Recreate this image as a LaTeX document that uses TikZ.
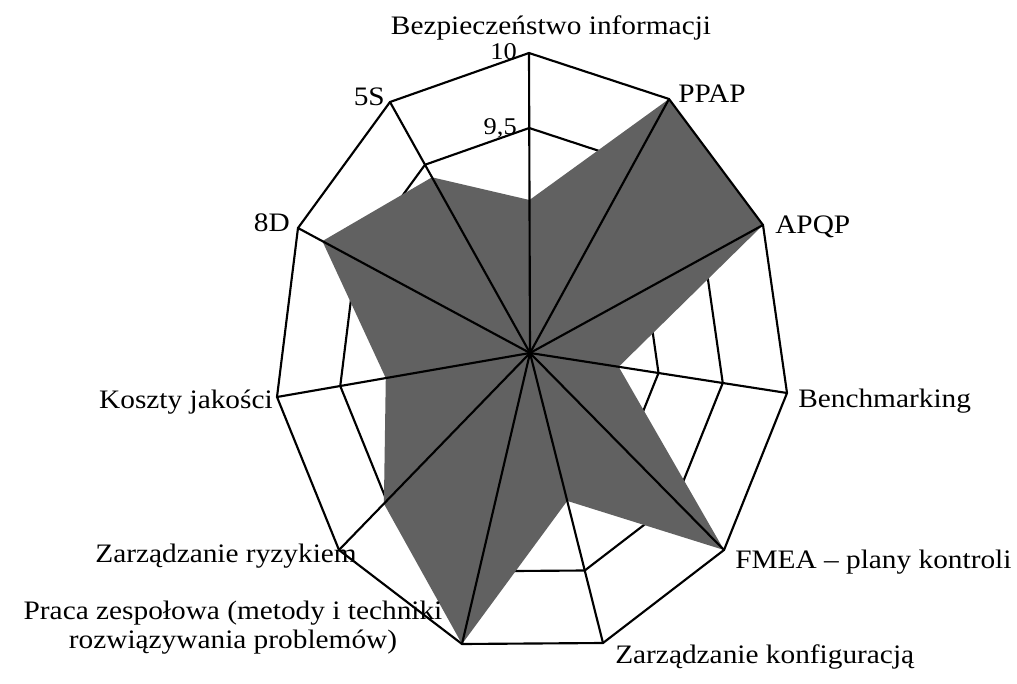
\documentclass[tikz,border=0pt]{standalone}
\usepackage{fontspec}
\setmainfont{Liberation Serif}
\usepackage{graphicx}
\usetikzlibrary{calc}
\newcommand\hstretch[1]{\scalebox{1.1}[1]{#1}}
\begin{document}
\begin{tikzpicture}[x=0.75pt,y=-0.75pt,
  gridline/.style={line width=1.6pt, line join=miter},
  spoke/.style={line width=1.6pt},
  datafill/.style={fill=black!62},
  lbl/.style={font=\fontsize{20}{21.75}\selectfont, inner sep=0pt},
  numlbl/.style={font=\fontsize{18}{20}\selectfont, inner sep=0pt}]
\useasboundingbox (0,0) rectangle (1017,684);
% centre and outer vertices
\coordinate (C) at (530,353);
\coordinate (O1) at (529,53);
\coordinate (O2) at (669,99);
\coordinate (O3) at (763,225);
\coordinate (O4) at (787,393);
\coordinate (O5) at (724,550);
\coordinate (O6) at (603,643);
\coordinate (O7) at (462,644);
\coordinate (O8) at (339,550);
\coordinate (O9) at (277,397);
\coordinate (O10) at (298,228);
\coordinate (O11) at (390,102);
% inner rings
\foreach \r in {0.5,0.75}{
  \draw[gridline] ($(C)!\r!(O1)$)
    \foreach \i in {2,...,11}{ -- ($(C)!\r!(O\i)$) } -- cycle;
}
% data polygon
\coordinate (D1) at ($(C)!0.51!(O1)$);
\coordinate (D2) at ($(C)!1!(O2)$);
\coordinate (D3) at ($(C)!1!(O3)$);
\coordinate (D4) at ($(C)!0.345!(O4)$);
\coordinate (D5) at ($(C)!1!(O5)$);
\coordinate (D6) at ($(C)!0.51!(O6)$);
\coordinate (D7) at ($(C)!1!(O7)$);
\coordinate (D8) at ($(C)!0.765!(O8)$);
\coordinate (D9) at ($(C)!0.57!(O9)$);
\coordinate (D10) at ($(C)!0.895!(O10)$);
\coordinate (D11) at ($(C)!0.70!(O11)$);
\fill[datafill] (D1) -- (D2) -- (D3) -- (D4) -- (D5) -- (D6) -- (D7) -- (D8) -- (D9) -- (D10) -- (D11) -- cycle;
% outer ring
\draw[gridline] (O1) -- (O2) -- (O3) -- (O4) -- (O5) -- (O6) -- (O7) -- (O8) -- (O9) -- (O10) -- (O11) -- cycle;
% spokes
\foreach \i in {1,...,11}{ \draw[spoke] (C) -- (O\i); }
% labels
\node[lbl, anchor=base] (l1) at (551,35) {\hstretch{Bezpieczeństwo informacji}};
\node[numlbl, anchor=base east] (n10) at (517,60) {\hstretch{10}};
\node[numlbl, anchor=base east] (n95) at (517,135) {\hstretch{9,5}};
\node[lbl, anchor=base west] (l2) at (678,103) {\hstretch{PPAP}};
\node[lbl, anchor=base west] (l3) at (775,234) {\hstretch{APQP}};
\node[lbl, anchor=base west] (l4) at (798,407) {\hstretch{Benchmarking}};
\node[lbl, anchor=base west] (l5) at (735,568) {\hstretch{FMEA – plany kontroli}};
\node[lbl, anchor=base west] (l6) at (615,663) {\hstretch{Zarządzanie konfiguracją}};
\node[lbl, anchor=base, align=center] (l7) at (233,648) {\hstretch{Praca zespołowa (metody i techniki}\\\hstretch{rozwiązywania problemów)}};
\node[lbl, anchor=base east] (l8) at (357,562) {\hstretch{Zarządzanie ryzykiem}};
\node[lbl, anchor=base east] (l9) at (273,408) {\hstretch{Koszty jakości}};
\node[lbl, anchor=base east] (l10) at (290,232) {\hstretch{8D}};
\node[lbl, anchor=base east] (l11) at (385,106) {\hstretch{5S}};
\end{tikzpicture}
\end{document}
